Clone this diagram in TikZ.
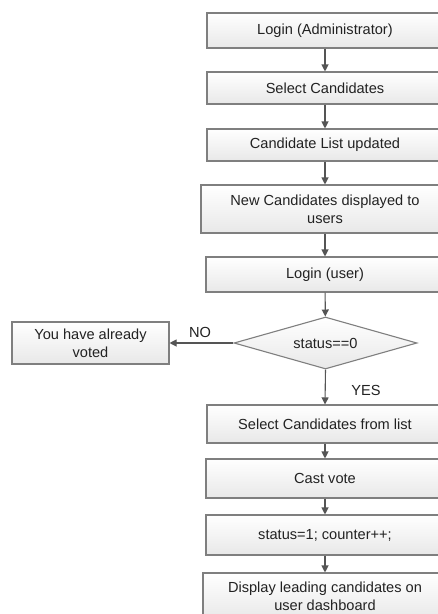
\documentclass[tikz,border=0pt]{standalone}
\usepackage{fontspec}
\setmainfont{Liberation Sans}
\usetikzlibrary{shapes.geometric,arrows.meta}
\definecolor{txt}{HTML}{222222}
\definecolor{edge}{HTML}{7F7F7F}
\definecolor{arr}{HTML}{555555}
\tikzset{
  box/.style={draw=edge, line width=1.1pt, top color=white, bottom color=black!9,
    rectangle, inner sep=0pt, align=center, text=txt,
    font=\fontsize{14.6pt}{17.8pt}\selectfont},
  dec/.style={draw=edge, line width=1.1pt, top color=white, bottom color=black!9,
    diamond, inner sep=0pt, text=txt, font=\fontsize{14.6pt}{17.8pt}\selectfont},
  flow/.style={draw=arr, line width=1.1pt, -{Triangle[length=7pt,width=7pt]}},
  lbl/.style={text=txt, font=\fontsize{14.6pt}{17.8pt}\selectfont, inner sep=0pt}
}
\begin{document}
\begin{tikzpicture}[x=1pt,y=-1pt]
\useasboundingbox (0,0) rectangle (438,614);
\fill[white] (0,0) rectangle (438,614);
\clip (0,0) rectangle (438,614);
\node[box, minimum width=236pt, minimum height=35pt] (b1) at (325,30.5) {Login (Administrator)};
\node[box, minimum width=236pt, minimum height=32pt] (b2) at (325,88) {Select Candidates};
\node[box, minimum width=236pt, minimum height=32pt] (b3) at (325,145) {Candidate List updated};
\node[box, minimum width=248pt, minimum height=48pt] (b4) at (325,209) {New Candidates displayed to\\users};
\node[box, minimum width=238pt, minimum height=35pt] (b5) at (325,274.5) {Login (user)};
\node[dec, minimum width=183pt, minimum height=52pt, aspect=3.5] (d) at (325.5,343) {status==0};
\node[box, minimum width=157pt, minimum height=42pt] (no) at (90.5,343) {You have already\\voted};
\node[box, minimum width=236pt, minimum height=38pt] (b6) at (325,424) {Select Candidates from list};
\node[box, minimum width=238pt, minimum height=39pt] (b7) at (325,478.5) {Cast vote};
\node[box, minimum width=238pt, minimum height=40pt] (b8) at (325,535) {status=1; counter++;};
\node[box, minimum width=244pt, minimum height=47pt] (b9) at (325,596.5) {Display leading candidates on\\user dashboard};
\draw[flow] (b1) -- (b2);
\draw[flow] (b2) -- (b3);
\draw[flow] (b3) -- (b4);
\draw[flow] (b4) -- (b5);
\draw[flow] (b5) -- (d);
\draw[flow] (d.west) -- (no.east);
\draw[flow] (d.south) -- (b6.north);
\draw[flow] (b6) -- (b7);
\draw[flow] (b7) -- (b8);
\draw[flow] (b8) -- (b9);
\node[lbl] (nolbl) at (200,332) {NO};
\node[lbl] (yeslbl) at (366,390) {YES};
\end{tikzpicture}
\end{document}
